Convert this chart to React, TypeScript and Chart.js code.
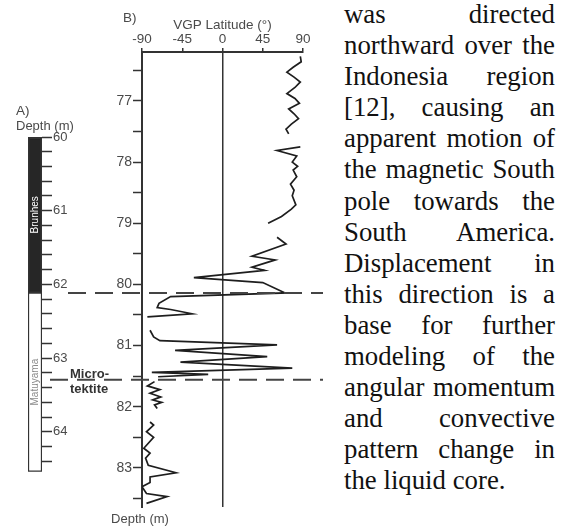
import React, { useEffect, useRef } from 'react';
import { Chart, registerables } from 'chart.js';

Chart.register(...registerables);

// ---------- Panel B data: VGP latitude (deg) versus depth (m) ----------
const seg1Depth = [76.27, 76.36, 76.45, 76.53, 76.61, 76.69, 76.78, 76.88, 76.96, 77.04, 77.13, 77.21, 77.29, 77.38, 77.46, 77.54];
const seg1Lat = [87, 88, 79, 72, 80, 87, 81, 72, 81, 86, 74, 80, 85, 77, 71, 74];

const seg2Depth = [77.75, 77.81, 77.9, 78.0, 78.07, 78.13, 78.24, 78.36, 78.46, 78.55, 78.7, 78.77, 78.89, 79.0];
const seg2Lat = [87, 61, 83, 78, 84, 79, 83, 76, 80, 78, 82, 77, 66, 51];

const seg3Depth = [79.23, 79.34, 79.54, 79.6, 79.72, 79.77, 79.89, 79.97, 80.14, 80.2, 80.31, 80.38, 80.41, 80.48, 80.53];
const seg3Lat = [61, 71, 33, 59, 33, 47, -32, 45, 70, -58, -71, -73, -58, -34, -84];

const seg4Depth = [80.75, 80.86, 80.92, 80.99, 81.08, 81.18, 81.27, 81.37, 81.44, 81.47, 81.51];
const seg4Lat = [-81, -77, -70, 61, -53, 50, -47, 78, -79, -16, -72];

const seg5Depth = [81.59, 81.66, 81.72, 81.78, 81.84, 81.89, 81.93, 81.97, 82.03];
const seg5Lat = [-76, -84, -70, -81, -69, -78, -68, -76, -73];

const seg6Depth = [82.25, 82.3, 82.41, 82.5, 82.68, 82.76, 82.84, 82.96, 83.08, 83.15, 83.24, 83.31, 83.42, 83.47, 83.58];
const seg6Lat = [-81, -77, -85, -77, -88, -81, -86, -83, -52, -81, -81, -90, -85, -62, -85];

const latMin = -90;
const latMax = 90;
const latStep = 45;
const depthBMin = 76.2;
const depthBMax = 83.64;
const depthBStep = 0.5;

// Brunhes/Matuyama boundary and microtektite level (panel B depths)
const boundaryDepths = [80.14, 81.56];

// ---------- Panel A data: polarity column ----------
const polarityNames = ['Brunhes', 'Matuyama'];
const polarityTop = [60, 62.11];
const polarityBottom = [62.11, 64.54];
const depthAMin = 60;
const depthAMax = 64.54;
const depthAStep = 0.2;

// ---------- Body text ----------
const textLines = [
  'was directed',
  'northward over the',
  'Indonesia region',
  '[12], causing an',
  'apparent motion of',
  'the magnetic South',
  'pole towards the',
  'South America.',
  'Displacement in',
  'this direction is a',
  'base for further',
  'modeling of the',
  'angular momentum',
  'and convective',
  'pattern change in',
  'the liquid core.',
];

const SANS = '"Liberation Sans", Arial, Helvetica, sans-serif';
const AXIS = '#333';
const LABEL = '#4a4a4a';

const isInt = (v: number) => Math.abs(v - Math.round(v)) < 1e-6;

export default function App() {
  const refA = useRef<HTMLCanvasElement | null>(null);
  const refB = useRef<HTMLCanvasElement | null>(null);

  useEffect(() => {
    const segments = [
      [seg1Depth, seg1Lat],
      [seg2Depth, seg2Lat],
      [seg3Depth, seg3Lat],
      [seg4Depth, seg4Lat],
      [seg5Depth, seg5Lat],
      [seg6Depth, seg6Lat],
    ];

    const overlayB = {
      id: 'overlayB',
      afterDraw(chart: any) {
        const { ctx } = chart;
        const y = chart.scales.y;
        const area = chart.chartArea;
        ctx.save();
        ctx.strokeStyle = '#444';
        ctx.lineWidth = 2;
        ctx.setLineDash([18, 9]);
        const starts = [68, 50];
        boundaryDepths.forEach((d, i) => {
          const py = y.getPixelForValue(d);
          ctx.beginPath();
          ctx.moveTo(starts[i], py);
          ctx.lineTo(323, py);
          ctx.stroke();
        });
        ctx.setLineDash([]);
        ctx.fillStyle = LABEL;
        ctx.textBaseline = 'alphabetic';
        ctx.textAlign = 'left';
        ctx.font = `13.5px ${SANS}`;
        ctx.fillText('B)', 123, 21.5);
        ctx.textAlign = 'center';
        ctx.font = `13px ${SANS}`;
        ctx.fillText('Depth (m)', area.left - 2, 523);
        ctx.textAlign = 'left';
        ctx.fillStyle = '#333';
        ctx.font = `bold 13px ${SANS}`;
        const py2 = y.getPixelForValue(boundaryDepths[1]);
        ctx.fillText('Micro-', 70, py2 - 2);
        ctx.fillText('tektite', 70, py2 + 13);
        ctx.restore();
      },
    };

    const chartB = new Chart(refB.current as HTMLCanvasElement, {
      type: 'line',
      data: {
        datasets: segments.map(([dep, lat]) => ({
          data: dep.map((d, i) => ({ x: lat[i], y: d })),
          borderColor: '#1e1e1e',
          borderWidth: 1.7,
          pointRadius: 0,
          tension: 0,
          fill: false,
        })),
      },
      options: {
        animation: false,
        responsive: false,
        maintainAspectRatio: false,
        events: [],
        layout: { padding: { left: 100, right: 27, top: 0, bottom: 19 } },
        plugins: { legend: { display: false }, tooltip: { enabled: false } },
        scales: {
          x: {
            type: 'linear',
            position: 'top',
            min: latMin,
            max: latMax,
            ticks: {
              stepSize: latStep,
              autoSkip: false,
              maxRotation: 0,
              padding: 1,
              color: LABEL,
              font: { family: SANS, size: 13.5 },
            },
            grid: {
              drawOnChartArea: true,
              color: (c: any) => (c.tick && c.tick.value === 0 ? AXIS : 'rgba(0,0,0,0)'),
              lineWidth: 1.5,
              tickColor: AXIS,
              tickLength: 4,
              tickWidth: 1.5,
            },
            border: { display: true, color: AXIS, width: 2 },
            title: {
              display: true,
              text: 'VGP Latitude (°)',
              color: LABEL,
              font: { family: SANS, size: 13.5 },
              padding: { top: 17.5, bottom: 0 },
            },
            afterFit: (s: any) => {
              s.height = 52;
            },
          },
          y: {
            type: 'linear',
            position: 'left',
            reverse: true,
            min: depthBMin,
            max: depthBMax,
            ticks: {
              stepSize: depthBStep,
              includeBounds: false,
              autoSkip: false,
              padding: 1,
              color: LABEL,
              font: { family: SANS, size: 14 },
              callback: (v: any) => (isInt(Number(v)) ? String(Math.round(Number(v))) : ''),
            },
            grid: { drawOnChartArea: false, tickColor: AXIS, tickLength: 9, tickWidth: 1.5 },
            border: { display: true, color: AXIS, width: 2 },
            afterFit: (s: any) => {
              s.width = 42;
            },
          },
        },
      } as any,
      plugins: [overlayB],
    });

    const overlayA = {
      id: 'overlayA',
      afterDraw(chart: any) {
        const { ctx } = chart;
        const y = chart.scales.y;
        const area = chart.chartArea;
        ctx.save();
        ctx.fillStyle = LABEL;
        ctx.textAlign = 'left';
        ctx.textBaseline = 'alphabetic';
        ctx.font = `13.5px ${SANS}`;
        ctx.fillText('A)', 16, 25);
        ctx.font = `13px ${SANS}`;
        ctx.fillText('Depth (m)', 16, 39.5);
        const cx = (area.left + area.right) / 2;
        polarityNames.forEach((name, i) => {
          const cy = y.getPixelForValue((polarityTop[i] + polarityBottom[i]) / 2);
          ctx.save();
          ctx.translate(cx, cy);
          ctx.rotate(-Math.PI / 2);
          ctx.textAlign = 'center';
          ctx.textBaseline = 'middle';
          ctx.font = `10px ${SANS}`;
          ctx.fillStyle = i === 0 ? '#ffffff' : '#8a8a8a';
          ctx.fillText(name, 0, 0);
          ctx.restore();
        });
        ctx.restore();
      },
    };

    const chartA = new Chart(refA.current as HTMLCanvasElement, {
      type: 'bar',
      data: {
        labels: ['column'],
        datasets: polarityNames.map((name, i) => ({
          label: name,
          data: [[polarityTop[i], polarityBottom[i]]],
          backgroundColor: i === 0 ? '#262626' : '#ffffff',
          borderColor: AXIS,
          borderWidth: 1.5,
          borderSkipped: false,
          grouped: false,
          barPercentage: 1,
          categoryPercentage: 1,
        })),
      },
      options: {
        animation: false,
        responsive: false,
        maintainAspectRatio: false,
        events: [],
        layout: { padding: { left: 28, right: 0, top: 47, bottom: 18.3 } },
        plugins: { legend: { display: false }, tooltip: { enabled: false } },
        scales: {
          x: { display: false },
          y: {
            type: 'linear',
            position: 'right',
            reverse: true,
            min: depthAMin,
            max: depthAMax,
            ticks: {
              stepSize: depthAStep,
              includeBounds: false,
              autoSkip: false,
              padding: 1,
              color: LABEL,
              font: { family: SANS, size: 13 },
              callback: (v: any) => (isInt(Number(v)) ? String(Math.round(Number(v))) : ''),
            },
            grid: { drawOnChartArea: false, tickColor: AXIS, tickLength: 10, tickWidth: 1.5 },
            border: { display: false },
            afterFit: (s: any) => {
              s.width = 58;
            },
          },
        },
      } as any,
      plugins: [overlayA],
    });

    return () => {
      chartA.destroy();
      chartB.destroy();
    };
  }, []);

  return (
    <div
      style={{
        position: 'fixed',
        left: 0,
        top: 0,
        width: 566,
        height: 526,
        background: '#ffffff',
        overflow: 'hidden',
      }}
    >
      <canvas
        ref={refA}
        width={100}
        height={400}
        style={{ position: 'absolute', left: 0, top: 90, width: 100, height: 400 }}
      />
      <canvas
        ref={refB}
        width={330}
        height={526}
        style={{ position: 'absolute', left: 0, top: 0, width: 330, height: 526 }}
      />
      <div
        style={{
          position: 'absolute',
          left: 344,
          top: -1,
          width: 211,
          fontFamily: '"Liberation Serif", "Times New Roman", Times, serif',
          fontSize: 26.8,
          lineHeight: '31.1px',
          color: '#111',
        }}
      >
        {textLines.map((line, i) => (
          <div
            key={i}
            style={{
              textAlign: 'justify',
              textAlignLast: i === textLines.length - 1 ? 'left' : 'justify',
              whiteSpace: 'nowrap',
            }}
          >
            {line}
          </div>
        ))}
      </div>
    </div>
  );
}
